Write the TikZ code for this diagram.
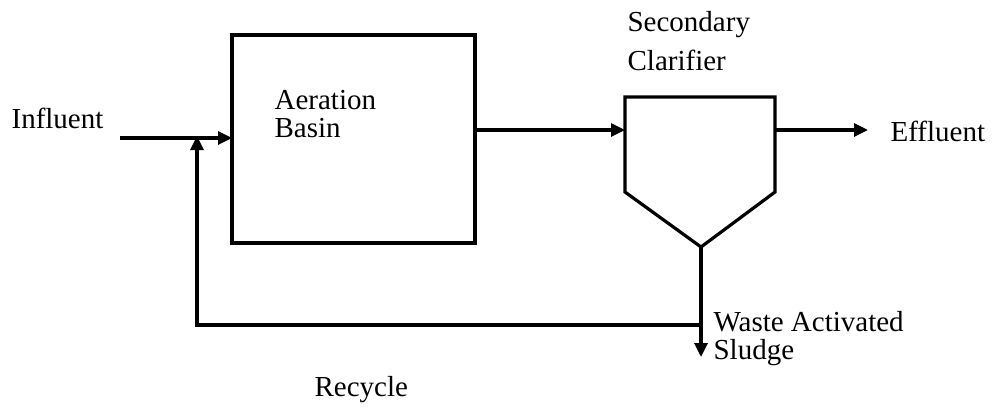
\documentclass[tikz,border=0pt]{standalone}
\usepackage{fontspec}
\setmainfont{Liberation Serif}
\usetikzlibrary{arrows.meta}
\begin{document}
\begin{tikzpicture}[x=1pt,y=-1pt,
  line width=3.2pt,
  arr/.style={-{Triangle[length=14pt,width=13pt]}},
  lbl/.style={font=\fontsize{29}{35}\selectfont, inner sep=0pt, align=left},
  basinbox/.style={draw, minimum width=243pt, minimum height=208pt, inner sep=0pt, outer sep=0pt}]
\useasboundingbox (0,0) rectangle (993,413);
% nodes
\node[basinbox, anchor=north west] (basin) at (232,35) {};
\coordinate (cltl) at (625,97);
\coordinate (cltr) at (775,97);
\coordinate (clbr) at (775,192);
\coordinate (cltip) at (701,247);
\coordinate (clbl) at (625,192);
\draw[line join=miter] (cltl) -- (cltr) -- (clbr) -- (cltip) -- (clbl) -- cycle;
\coordinate (clin) at (625,130);
\coordinate (clout) at (775,130);
\coordinate (inA) at (120,138);
\coordinate (merge) at (197,138);
\coordinate (effend) at (868,130);
\coordinate (junc) at (701,325);
\coordinate (wasend) at (701,357);
\coordinate (reccorner) at (197,325);
% labels
\node[lbl, anchor=west] (tinf) at (10,118) {Influent};
\node[lbl, anchor=west] (taer) at (273,100) {Aeration};
\node[lbl, anchor=west] (tbas) at (273,128) {Basin};
\node[lbl, anchor=west] (tsec) at (626,25) {Secondary};
\node[lbl, anchor=west] (tcla) at (626,60) {Clarifier};
\node[lbl, anchor=west] (teff) at (889,131) {Effluent};
\node[lbl, anchor=west] (twas) at (712,322) {Waste Activated};
\node[lbl, anchor=west] (tslu) at (712,353) {Sludge};
\node[lbl, anchor=west] (trec) at (313,390) {Recycle};
% connectors
\draw[arr] (inA) -- (basin.west |- inA);
\draw[arr] (basin.east |- clin) -- (clin);
\draw[arr] (clout) -- (effend);
\draw (cltip) -- (junc);
\draw[arr] (junc) -- (wasend);
\draw[arr] (junc) -- (reccorner) -- ([yshift=2pt]merge);
\end{tikzpicture}
\end{document}
